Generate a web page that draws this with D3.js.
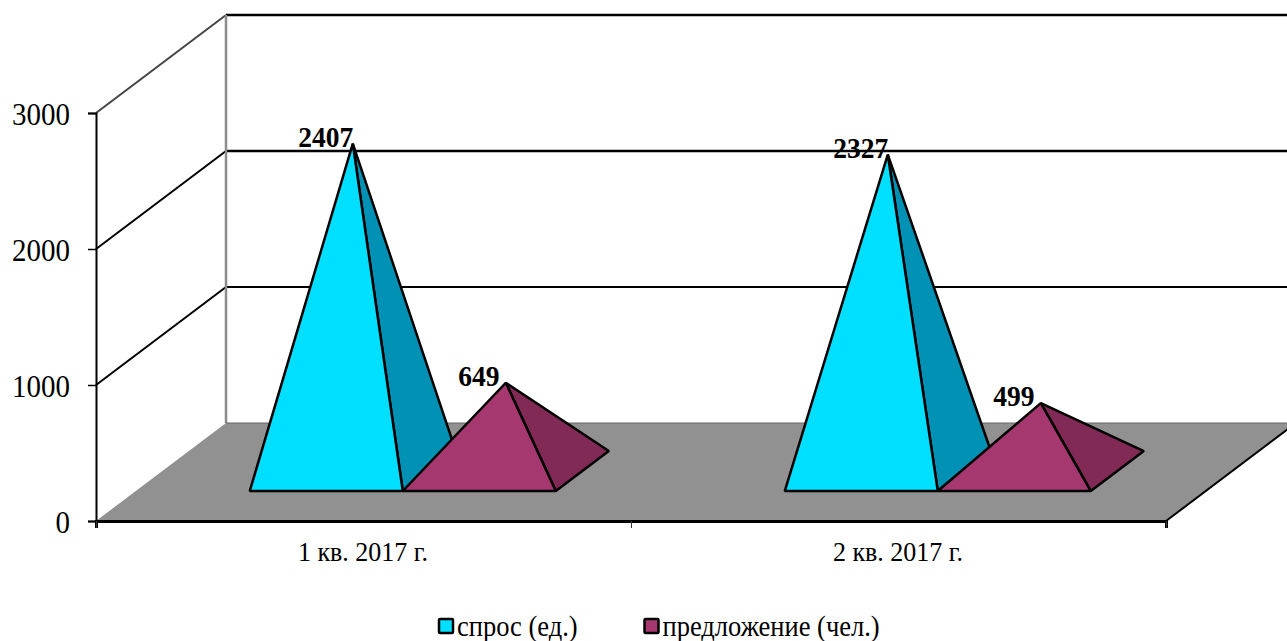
<!DOCTYPE html>
<html>
<head>
<meta charset="utf-8">
<script src="https://d3js.org/d3.v7.min.js"></script>
<style>
    body { margin: 0; background: #fff; }
    svg { display: block; }
    text { font-family: "Liberation Serif", serif; fill: #000; }
</style>
</head>
<body>
<div id="visualization"></div>
<script>
// chart data
var categories = ["1 кв. 2017 г.", "2 кв. 2017 г."];
var seriesNames = ["спрос (ед.)", "предложение (чел.)"];
var demand = [2407, 2327];
var supply = [649, 499];
var yTicks = [0, 1000, 2000, 3000];

var faceColors = ["#00DFFF", "#A5386F"];
var sideColors = ["#0091B5", "#812A55"];

var width = 1287, height = 641;

// 3d box: how far the back wall is shifted from the front
var depthX = 130, depthY = 98;
var baseNear = 0.306, baseFar = 0.714;

// the text in the picture is a bit taller than the font
var textStretch = 1.08;

var svg = d3.select("#visualization")
    .append("svg")
    .attr("width", width)
    .attr("height", height);

var y = d3.scaleLinear().domain([0, 3000]).range([521, 113]);

var x0 = d3.scaleBand()
    .domain(categories)
    .range([95.5, 1165.5])
    .paddingInner(0.428)
    .paddingOuter(0.214);

var x1 = d3.scaleBand()
    .domain(seriesNames)
    .range([0, x0.bandwidth()]);

var xEdges = d3.scaleLinear().domain([0, categories.length]).range([96, 1166]);

// x, value, depth (0 front - 1 back) to screen
function project(px, value, depth) {
    return [px + depth * depthX, y(value) - depth * depthY];
}

function poly(points) {
    return points.map(function (p) { return p.join(","); }).join(" ");
}

function placeText(tx, ty) {
    return "translate(" + tx + "," + ty + ") scale(1," + textStretch + ")";
}

// walls
var walls = svg.append("g").attr("class", "walls");

walls.selectAll("line.side")
    .data(yTicks.slice(1))
    .enter().append("line")
    .attr("class", "side")
    .attr("x1", function (d) { return project(96, d, 0)[0]; })
    .attr("y1", function (d) { return project(96, d, 0)[1]; })
    .attr("x2", function (d) { return project(96, d, 1)[0]; })
    .attr("y2", function (d) { return project(96, d, 1)[1]; })
    .attr("stroke", function (d) { return d === 3000 ? "#444" : "#000"; })
    .attr("stroke-width", 2);

walls.selectAll("line.back")
    .data(yTicks.slice(1))
    .enter().append("line")
    .attr("class", "back")
    .attr("x1", project(96, 0, 1)[0])
    .attr("x2", project(1166, 0, 1)[0])
    .attr("y1", function (d) { return project(96, d, 1)[1]; })
    .attr("y2", function (d) { return project(96, d, 1)[1]; })
    .attr("stroke", "#000")
    .attr("stroke-width", function (d) { return d === 1000 ? 2 : 2.5; });

walls.append("line")
    .attr("x1", project(96, 0, 1)[0])
    .attr("x2", project(96, 0, 1)[0])
    .attr("y1", project(96, 3000, 1)[1])
    .attr("y2", project(96, 0, 1)[1])
    .attr("stroke", "#8c8c8c")
    .attr("stroke-width", 2.5);

// floor
svg.append("polygon")
    .attr("points", poly([project(96, 0, 0), project(96, 0, 1), project(1166, 0, 1), project(1166, 0, 0)]))
    .attr("fill", "#919191");

svg.append("line")
    .attr("x1", project(96, 0, 1)[0])
    .attr("x2", project(1166, 0, 1)[0])
    .attr("y1", project(96, 0, 1)[1])
    .attr("y2", project(96, 0, 1)[1])
    .attr("stroke", "#666")
    .attr("stroke-width", 1);

svg.append("line")
    .attr("x1", project(1166, 0, 0)[0])
    .attr("y1", project(1166, 0, 0)[1])
    .attr("x2", project(1166, 0, 1)[0])
    .attr("y2", project(1166, 0, 1)[1])
    .attr("stroke", "#000")
    .attr("stroke-width", 2);

// axes
var yAxis = svg.append("g")
    .attr("transform", "translate(96,0)")
    .call(d3.axisLeft(y).tickValues(yTicks).tickSize(8).tickFormat(d3.format("d")));
yAxis.select(".domain").attr("stroke", "#000").attr("stroke-width", 2);
yAxis.selectAll("line").attr("stroke", "#000").attr("stroke-width", 1.5);
yAxis.selectAll("text")
    .attr("x", 0)
    .attr("dy", 0)
    .attr("transform", placeText(-26, 11.5))
    .style("font-size", "29px");

var xAxis = svg.append("g")
    .attr("transform", "translate(0,521)")
    .call(d3.axisBottom(xEdges).tickValues(d3.range(categories.length + 1)).tickSize(7).tickFormat(""));
xAxis.select(".domain").attr("stroke", "#000").attr("stroke-width", 3);
xAxis.selectAll("line").attr("stroke", "#333").attr("stroke-width", 1);

svg.append("g").selectAll("text")
    .data(categories)
    .enter().append("text")
    .attr("transform", function (d) { return placeText(x0(d) + x0.bandwidth() / 2, 561); })
    .attr("text-anchor", "middle")
    .style("font-size", "26px")
    .text(function (d) { return d; });

// pyramids
var seriesValues = [demand, supply];
var pyramids = [];
seriesValues.forEach(function (vals, s) {
    vals.forEach(function (v, c) {
        pyramids.push({cat: categories[c], name: seriesNames[s], s: s, value: v});
    });
});

var marks = svg.append("g").attr("class", "pyramids");

var group = marks.selectAll("g")
    .data(pyramids)
    .enter().append("g");

function apex(d) {
    var left = x0(d.cat) + x1(d.name);
    return project(left + x1.bandwidth() / 2, d.value, (baseNear + baseFar) / 2);
}

group.append("polygon")
    .attr("points", function (d) {
        var right = x0(d.cat) + x1(d.name) + x1.bandwidth();
        return poly([project(right, 0, baseNear), project(right, 0, baseFar), apex(d)]);
    })
    .attr("fill", function (d) { return sideColors[d.s]; })
    .attr("stroke", "#000")
    .attr("stroke-width", 2.5)
    .attr("stroke-linejoin", "bevel");

group.append("polygon")
    .attr("points", function (d) {
        var left = x0(d.cat) + x1(d.name);
        return poly([project(left, 0, baseNear), project(left + x1.bandwidth(), 0, baseNear), apex(d)]);
    })
    .attr("fill", function (d) { return faceColors[d.s]; })
    .attr("stroke", "#000")
    .attr("stroke-width", 2.5)
    .attr("stroke-linejoin", "bevel");

// value labels
svg.append("g").selectAll("text")
    .data(pyramids)
    .enter().append("text")
    .attr("transform", function (d) { return placeText(apex(d)[0] - 27, apex(d)[1] + 3); })
    .attr("text-anchor", "middle")
    .style("font-size", "27.5px")
    .style("font-weight", "bold")
    .text(function (d) { return d.value; });

// legend
var legendX = d3.scaleOrdinal().domain(seriesNames).range([439, 644.5]);

var legend = svg.append("g").selectAll("g")
    .data(seriesNames)
    .enter().append("g")
    .attr("transform", function (d) { return "translate(" + legendX(d) + ",619)"; });

legend.append("rect")
    .attr("width", 14)
    .attr("height", 14)
    .attr("rx", 1)
    .attr("fill", function (d, i) { return faceColors[i]; })
    .attr("stroke", "#000")
    .attr("stroke-width", 2.5);

legend.append("text")
    .attr("transform", placeText(18, 17))
    .style("font-size", "26.5px")
    .text(function (d) { return d; });
</script>
</body>
</html>
